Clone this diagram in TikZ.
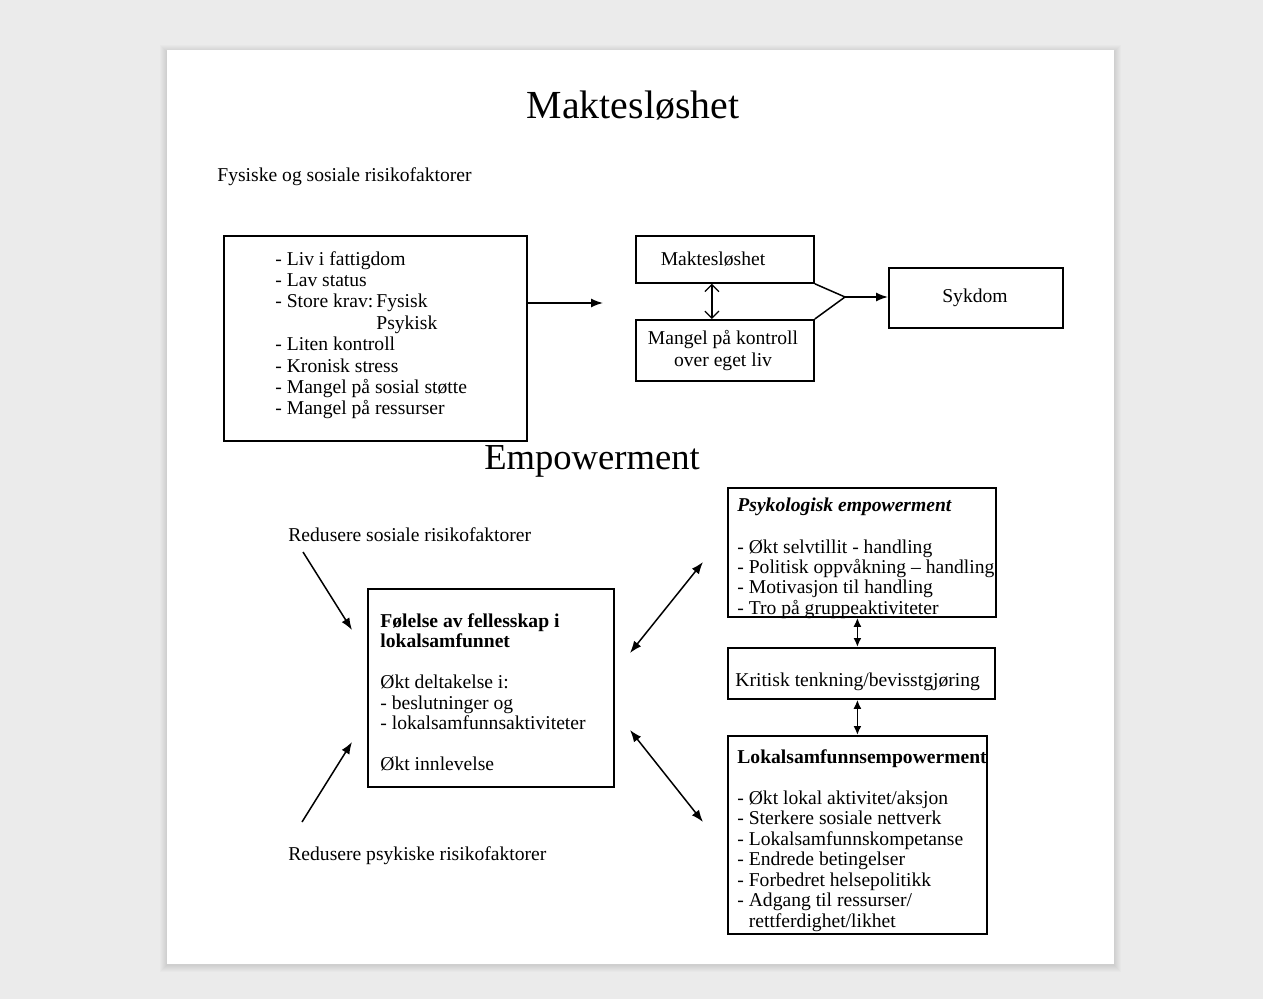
\documentclass[tikz,border=0pt]{standalone}
\usepackage{fontspec}
\setmainfont{Liberation Serif}
\usetikzlibrary{arrows.meta}
\definecolor{bggray}{HTML}{EBEBEB}
\begin{document}
\begin{tikzpicture}[x=0.5pt,y=-0.5pt,
  box/.style={draw, line width=0.9pt, inner sep=0pt, anchor=north west},
  txt/.style={inner sep=0pt, align=left, anchor=base west, font=\fontsize{9.8}{10.25}\selectfont},
  ctxt/.style={inner sep=0pt, align=center, anchor=base, font=\fontsize{9.8}{11}\selectfont},
  arr/.style={line width=0.75pt, -{Latex[length=6pt,width=4.5pt]}},
  darr/.style={line width=0.75pt, {Latex[length=6pt,width=4.5pt]}-{Latex[length=6pt,width=4.5pt]}},
  sarr/.style={line width=0.9pt, {Latex[length=4.5pt,width=4pt]}-{Latex[length=4.5pt,width=4pt]}},
  barr/.style={line width=0.6pt, {Straight Barb[length=3.5pt,width=7pt]}-{Straight Barb[length=3.5pt,width=7pt]}},
  line/.style={line width=0.75pt}]
\useasboundingbox (0,0) rectangle (1263,999);
\fill[bggray] (0,0) rectangle (1263,999);
\foreach \i in {1,...,7}{\fill[black,opacity=0.014] (167-\i,50-\i+2) rectangle (1114+\i,964+\i+1);}
\fill[white] (167,50) rectangle (1114,964);

% titles
\node[inner sep=0pt, anchor=base, font=\fontsize{19.9}{24}\selectfont] (t1) at (633,119) {Maktesløshet};
\node[inner sep=0pt, anchor=base, font=\fontsize{18.3}{22}\selectfont] (t2) at (592,470) {Empowerment};
\node[txt] (fys) at (217,182) {Fysiske og sosiale risikofaktorer};

% upper part
\node[box, minimum width=151.5pt, minimum height=102.5pt] (b1) at (223,235) {};
\node[txt, font=\fontsize{9.8}{10.7}\selectfont] (b1t) at (275,415) {- Liv i fattigdom\\- Lav status\\- Store krav:\hspace{1.5pt}Fysisk\\\phantom{- Store krav:}\hspace{1.5pt}Psykisk\\- Liten kontroll\\- Kronisk stress\\- Mangel på sosial støtte\\- Mangel på ressurser};
\coordinate (a1end) at (603,303);
\draw[arr] (b1.east |- a1end) -- (a1end);

\node[box, minimum width=89pt, minimum height=23.5pt] (makt) at (635,235) {};
\node[ctxt] (maktt) at (713,266) {Maktesløshet};
\node[box, minimum width=89pt, minimum height=30.5pt] (mangel) at (635,319) {};
\node[ctxt] (mangelt) at (723,367) {Mangel på kontroll\\over eget liv};
\draw[barr] ([xshift=-6.5pt]makt.south) -- ([xshift=-6.5pt]mangel.north);

\node[box, minimum width=87pt, minimum height=30pt] (syk) at (888,267) {};
\node[ctxt] (sykt) at (975,303) {Sykdom};
\coordinate (j) at (845,297);
\draw[line] (makt.south east) -- (j) -- (mangel.north east);
\draw[arr] (j) -- (syk.west |- j);

% lower part
\node[txt] (rs) at (288,542) {Redusere sosiale risikofaktorer};
\node[txt] (rp) at (288,860) {Redusere psykiske risikofaktorer};

\node[box, minimum width=123pt, minimum height=99pt] (fel) at (367,588) {};
\node[txt] (felt) at (380,770.5) {\textbf{Følelse av fellesskap i}\\\textbf{lokalsamfunnet}\\[10.25pt]Økt deltakelse i:\\- beslutninger og\\- lokalsamfunnsaktiviteter\\[10.25pt]Økt innlevelse};

\coordinate (rsend) at (352,630);
\coordinate (rpend) at (352,742);
\draw[arr] ([xshift=7.5pt,yshift=-5pt]rs.base west) -- (rsend);
\draw[arr] ([xshift=7pt,yshift=19pt]rp.base west) -- (rpend);

\node[box, minimum width=134pt, minimum height=64.5pt] (psyk) at (727,487) {};
\node[txt] (psykt) at (737,614.5) {\textbf{\textit{Psykologisk empowerment}}\\[10.25pt]- Økt selvtillit - handling\\- Politisk oppvåkning – handling\\- Motivasjon til handling\\- Tro på gruppeaktiviteter};

\node[box, minimum width=133.5pt, minimum height=25.5pt] (krit) at (727,647) {};
\node[txt] (kritt) at (735,686) {Kritisk tenkning/bevisstgjøring};

\node[box, minimum width=129.5pt, minimum height=99pt] (lok) at (727,735) {};
\node[txt] (lokt) at (737,927) {\textbf{Lokalsamfunnsempowerment}\\[10.25pt]- Økt lokal aktivitet/aksjon\\- Sterkere sosiale nettverk\\- Lokalsamfunnskompetanse\\- Endrede betingelser\\- Forbedret helsepolitikk\\- Adgang til ressurser/\\\phantom{- }rettferdighet/likhet};

\draw[sarr] (psyk.south -| lok.north) -- (krit.north -| lok.north);
\draw[sarr] (krit.south -| lok.north) -- (lok.north);

\coordinate (d1a) at (630,653);
\coordinate (d1b) at (703,562);
\coordinate (d2a) at (630,730);
\coordinate (d2b) at (703,822);
\draw[darr] (d1a) -- (d1b);
\draw[darr] (d2a) -- (d2b);
\end{tikzpicture}
\end{document}
